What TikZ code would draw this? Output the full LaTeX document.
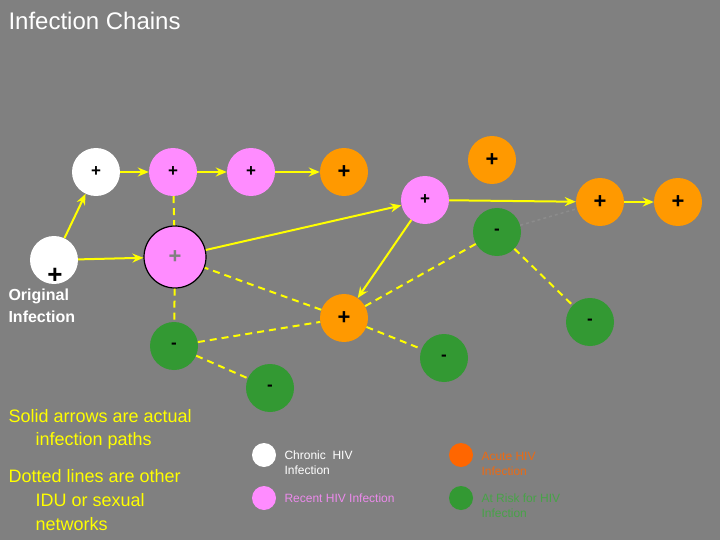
\documentclass[tikz,border=0pt]{standalone}
\usepackage{fontspec}
\setmainfont{Liberation Sans}
\usetikzlibrary{arrows.meta}
\definecolor{bg}{RGB}{128,128,128}
\definecolor{pk}{RGB}{255,140,255}
\definecolor{og}{RGB}{255,153,0}
\definecolor{gr}{RGB}{51,153,51}
\definecolor{ye}{RGB}{255,255,0}
\definecolor{acute}{RGB}{255,102,0}
\begin{document}
\begin{tikzpicture}[x=1pt,y=-1pt,
  nd/.style={circle,minimum size=48pt,inner sep=0pt,font=\bfseries\fontsize{17}{17}\selectfont},
  wh/.style={nd,fill=white},
  pi/.style={nd,fill=pk},
  or/.style={nd,fill=og,font=\bfseries\fontsize{22}{22}\selectfont},
  gn/.style={nd,fill=gr},
  arr/.style={draw=ye,line width=2pt,-{Stealth[length=11pt,width=9pt]}},
  dsh/.style={draw=ye,line width=2pt,dash pattern=on 7pt off 5pt},
  lg/.style={circle,minimum size=24pt,inner sep=0pt},
  lt/.style={anchor=north west,align=left,font=\fontsize{12}{15}\selectfont}]
\fill[bg] (0,0) rectangle (720,540);
\node[anchor=west,white,font=\fontsize{24}{28}\selectfont] (title) at (5,21) {Infection Chains};
\node[wh] (w1) at (96,172) {+};
\node[pi] (p1) at (173,172) {+};
\node[pi] (p2) at (251,172) {+};
\node[or] (o1) at (344,172) {\raisebox{-5pt}{+}};
\node[wh] (w0) at (54,260) {};
\node[font=\bfseries\fontsize{26}{26}\selectfont] (w0t) at (55,276) {+};
\node[pi,minimum size=62pt,draw=black,line width=1.2pt,text=bg,font=\bfseries\fontsize{22}{22}\selectfont] (pb) at (175,257) {+};
\node[pi] (p3) at (425,200) {+};
\node[or] (o2) at (492,160) {\raisebox{-5pt}{+}};
\node[or] (o3) at (600,202) {\raisebox{-5pt}{+}};
\node[or] (o4) at (678,202) {\raisebox{-5pt}{+}};
\node[gn] (g1) at (497,232) {-};
\node[gn] (g2) at (590,322) {-};
\node[gn] (g3) at (444,358) {-};
\node[gn] (g4) at (174,346) {-};
\node[gn] (g5) at (270,388) {-};
\node[or] (o5) at (344,318) {\raisebox{-5pt}{+}};
\node[anchor=north west,white,align=left,font=\bfseries\fontsize{16}{22}\selectfont] (orig) at (5,285) {Original\\Infection};
\draw[draw=black!45,line width=1.5pt,dashed] (g1) -- (o3);
\draw[dsh] (p1) -- (pb);
\draw[dsh] (pb) -- (g4);
\draw[dsh] (o5) -- (pb);
\draw[dsh] (g4) -- (o5);
\draw[dsh] (g4) -- (g5);
\draw[dsh] (o5) -- (g1);
\draw[dsh] (o5) -- (g3);
\draw[dsh] (g1) -- (g2);
\draw[arr] (w0) -- (w1);
\draw[arr] (w1) -- (p1);
\draw[arr] (p1) -- (p2);
\draw[arr] (p2) -- (o1);
\draw[arr] (w0) -- (pb);
\draw[arr] (pb) -- (p3);
\draw[arr] (p3) -- (o5);
\draw[arr] (p3) -- (o3);
\draw[arr] (o3) -- (o4);
\node[anchor=north west,ye,align=left,font=\fontsize{18}{23}\selectfont] (t1) at (5,406) {Solid arrows are actual\\\hspace*{27pt}infection paths};
\node[anchor=north west,ye,align=left,font=\fontsize{18}{24}\selectfont] (t2) at (5,466) {Dotted lines are other\\\hspace*{27pt}IDU or sexual\\\hspace*{27pt}networks};
\node[lg,fill=white] (l1) at (264,455) {};
\node[lg,fill=pk] (l2) at (264,498) {};
\node[lg,fill=acute] (l3) at (461,455) {};
\node[lg,fill=gr] (l4) at (461,498) {};
\node[lt,white] (lt1) at (281,447) {Chronic\ \ HIV\\Infection};
\node[lt,pk!85!bg] (lt2) at (281,490) {Recent HIV Infection};
\node[lt,acute!85!bg] (lt3) at (478,449) {Acute HIV\\Infection};
\node[lt,gr!90!white] (lt4) at (478,490) {At Risk for HIV\\Infection};
\end{tikzpicture}
\end{document}
